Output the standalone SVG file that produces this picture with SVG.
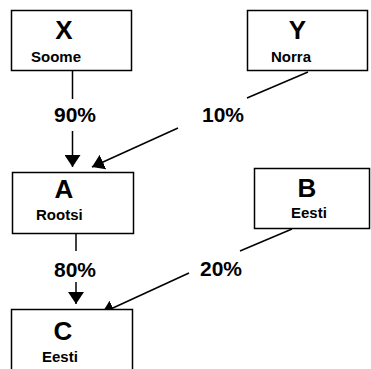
<svg xmlns="http://www.w3.org/2000/svg" width="371" height="369" viewBox="0 0 371 369">
<style>
.box{fill:#fff;stroke:#000;stroke-width:1.5}
.big{font-family:"Liberation Sans",Arial,sans-serif;font-weight:bold;font-size:26px;text-anchor:middle}
.sub{font-family:"Liberation Sans",Arial,sans-serif;font-weight:bold;font-size:15px}
.pct{font-family:"Liberation Sans",Arial,sans-serif;font-weight:bold;font-size:21px}
.ln{stroke:#000;stroke-width:1.5;fill:none}
</style>
<defs>
<marker id="ah" markerUnits="userSpaceOnUse" markerWidth="12" markerHeight="16" viewBox="0 0 12 16" refX="12" refY="8" orient="auto">
<path d="M0,0 L12,8 L0,16 Z" fill="#000"/>
</marker>
</defs>
<rect width="371" height="369" fill="#fff"/>
<g id="connectors">
<line class="ln" x1="72.5" y1="70" x2="72.5" y2="99"/>
<line class="ln" x1="72.5" y1="131" x2="72.5" y2="167" marker-end="url(#ah)"/>
<line class="ln" x1="308" y1="72" x2="247" y2="98"/>
<line class="ln" x1="178" y1="128" x2="92" y2="167" marker-end="url(#ah)"/>
<line class="ln" x1="76" y1="233" x2="76" y2="251"/>
<line class="ln" x1="76" y1="282" x2="76" y2="304" marker-end="url(#ah)"/>
<line class="ln" x1="292" y1="229" x2="240" y2="251"/>
<line class="ln" x1="189" y1="273" x2="102" y2="313" marker-end="url(#ah)"/>
<text class="pct" x="54" y="122">90%</text>
<text class="pct" x="202" y="122">10%</text>
<text class="pct" x="54" y="277">80%</text>
<text class="pct" x="200" y="276">20%</text>
</g>
<g id="X">
<rect class="box" x="11.5" y="10.5" width="120" height="60"/>
<text class="big" x="64" y="39">X</text>
<text class="sub" x="31" y="62">Soome</text>
</g>
<g id="Y">
<rect class="box" x="247.5" y="10.5" width="120" height="60"/>
<text class="big" x="297.5" y="39">Y</text>
<text class="sub" x="271" y="62">Norra</text>
</g>
<g id="A">
<rect class="box" x="12.5" y="172.5" width="121" height="61"/>
<text class="big" x="64" y="198">A</text>
<text class="sub" x="36" y="220">Rootsi</text>
</g>
<g id="B">
<rect class="box" x="254.5" y="168.5" width="115" height="60"/>
<text class="big" x="307" y="197">B</text>
<text class="sub" x="291" y="218">Eesti</text>
</g>
<g id="C">
<rect class="box" x="11.5" y="309.5" width="121" height="70"/>
<text class="big" x="63" y="340">C</text>
<text class="sub" x="42" y="362">Eesti</text>
</g>
</svg>
